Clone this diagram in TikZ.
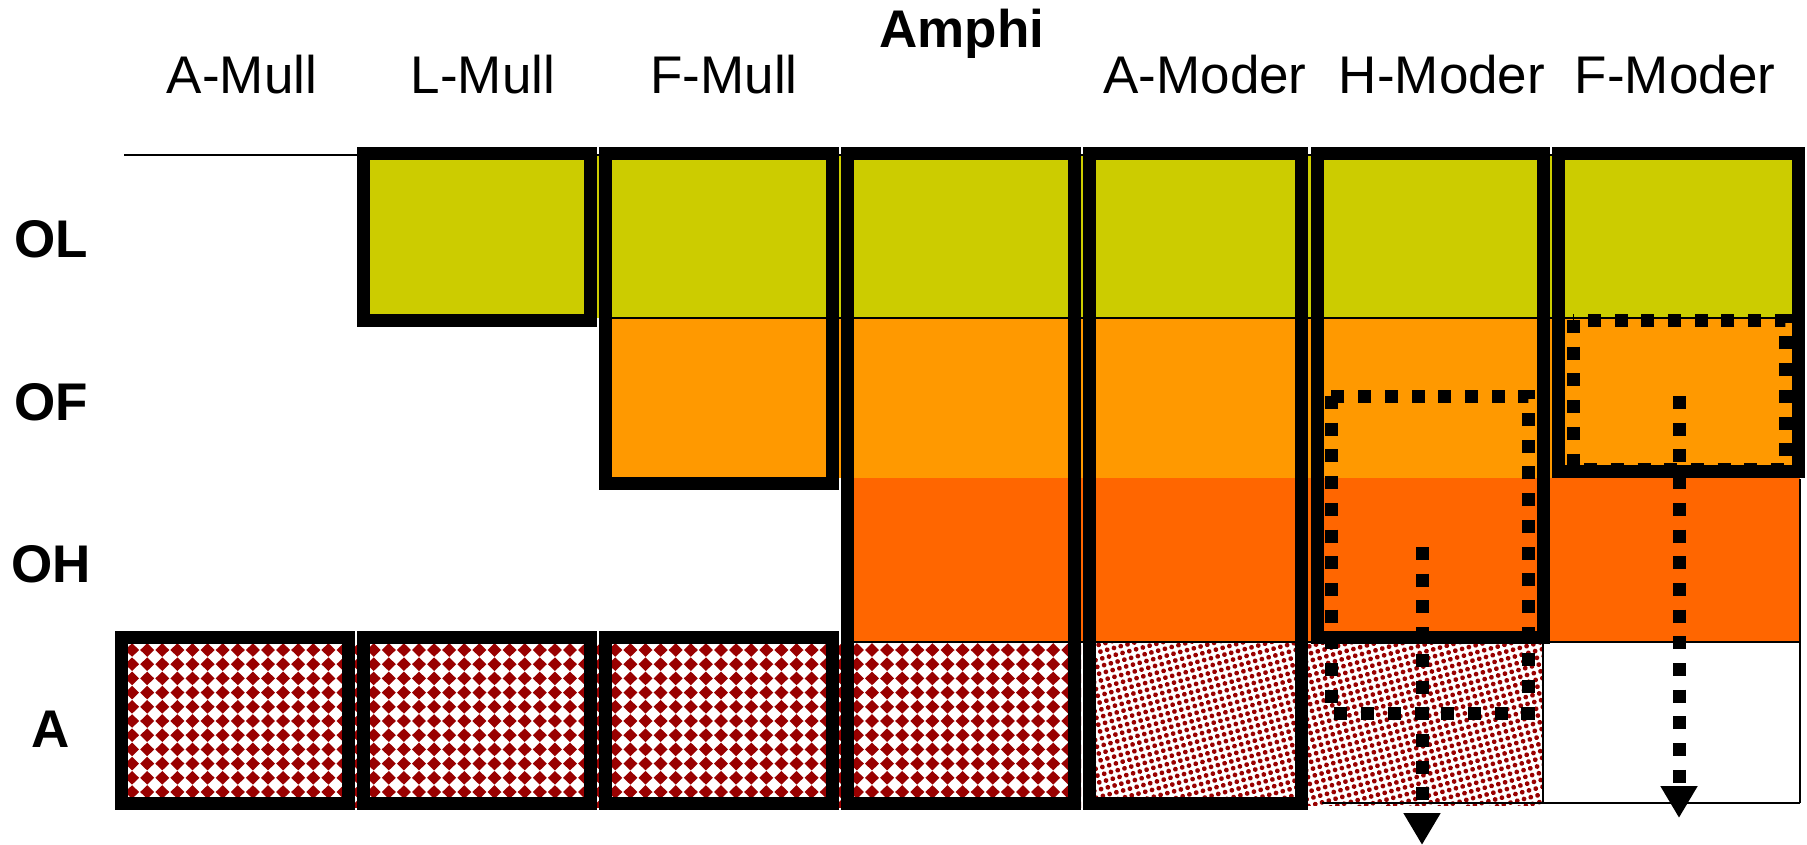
\documentclass[tikz,border=0pt]{standalone}
\usepackage{fontspec}
\setmainfont{Liberation Sans}
\usetikzlibrary{arrows.meta,patterns.meta}
\definecolor{litter}{HTML}{CCCC00}
\definecolor{ferm}{HTML}{FF9900}
\definecolor{humus}{HTML}{FF6600}
\definecolor{mineral}{HTML}{990000}
\begin{document}
\begin{tikzpicture}[x=1pt, y=-1pt,
    thickbox/.style={line width=13pt},
    thinline/.style={line width=2.5pt},
    dotbox/.style={line width=13pt, dash pattern=on 13pt off 13.7pt},
    dotarrow/.style={line width=13pt, dash pattern=on 13pt off 13.7pt, -{Triangle[width=35pt,length=32pt]}},
    collabel/.style={anchor=base, inner sep=0pt, font=\fontsize{53}{60}\selectfont},
    rowlabel/.style={anchor=base, inner sep=0pt, font=\fontsize{53}{60}\selectfont\bfseries}]
    \useasboundingbox (0,0) rectangle (1807,845);

    % horizon fills
    \fill[litter] (357,155) rectangle (1800,318);
    \fill[ferm] (599,318) rectangle (1800,478);
    \fill[humus] (841,478) rectangle (1800,642);
    \begin{scope}
        \clip (115,642) rectangle (1081,807);
        \fill[mineral] \foreach \i in {0,...,64} {\foreach \j in {0,...,11} {
            (117+\i*15.1,650+\j*14.2) ++(-7,0) -- ++(7,-6.8) -- ++(7,6.8) -- ++(-7,6.8) -- cycle}};
    \end{scope}
    \fill[pattern={Dots[radius=2.4pt, distance=7pt, angle=15]}, pattern color=mineral] (1083,642) rectangle (1543,805);

    % thin lines
    \draw[thinline] (124,155) -- (1805,155);
    \draw[thinline] (599,318) -- (1800,318);
    \draw[thinline] (841,642) -- (1800,642);
    \draw[thinline] (1322,803) -- (1800,803);
    \draw[thinline] (1543,642) -- (1543,803);
    \draw[thinline] (1800,479) -- (1800,803);

    % thick boxes
    \draw[thickbox] (121.5,637.5) rectangle (348.5,803.5);
    \draw[thickbox] (363.5,153.5) rectangle (590.5,320.5);
    \draw[thickbox] (363.5,637.5) rectangle (590.5,803.5);
    \draw[thickbox] (605.5,153.5) rectangle (832.5,483.5);
    \draw[thickbox] (605.5,637.5) rectangle (832.5,803.5);
    \draw[thickbox] (847.5,153.5) rectangle (1074.5,803.5);
    \draw[thickbox] (1089.5,153.5) rectangle (1301,803.5);
    \draw[thickbox] (1317,153.5) rectangle (1543.5,637);
    \draw[thickbox] (1558.5,153.5) rectangle (1798.5,471);

    % dotted boxes and arrows
    \draw[dotbox] (1331,396) rectangle (1528,713);
    \draw[dotbox] (1573,320) rectangle (1785,469);
    \coordinate (hstart) at (1422,547);
    \coordinate (hend) at (1422,845);
    \coordinate (fstart) at (1679,396);
    \coordinate (fend) at (1679,818);
    \draw[dotarrow] (hstart) -- (hend);
    \draw[dotarrow] (fstart) -- (fend);

    % labels
    \node[rowlabel] (amphi) at (962,48) {Amphi};
    \node[collabel] (amull) at (242,94) {A-Mull};
    \node[collabel] (lmull) at (483,94) {L-Mull};
    \node[collabel] (fmull) at (724,94) {F-Mull};
    \node[collabel] (amoder) at (1205,94) {A-Moder};
    \node[collabel] (hmoder) at (1442,94) {H-Moder};
    \node[collabel] (fmoder) at (1675,94) {F-Moder};
    \node[rowlabel] (ol) at (51,257) {OL};
    \node[rowlabel] (of) at (51,420) {OF};
    \node[rowlabel] (oh) at (51,582) {OH};
    \node[rowlabel] (ah) at (51,747) {A};
\end{tikzpicture}
\end{document}
